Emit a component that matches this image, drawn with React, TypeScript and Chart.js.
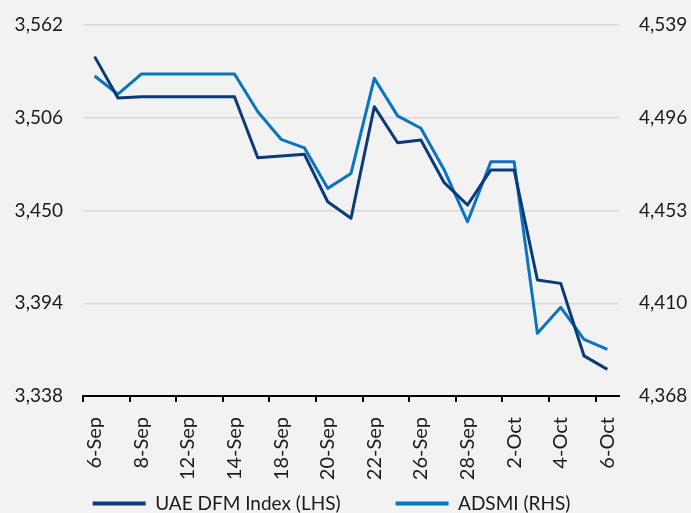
import React, { useEffect, useRef } from 'react';
import { Chart, registerables } from 'chart.js';

Chart.register(...registerables);

const categories = ['6-Sep', '7-Sep', '8-Sep', '11-Sep', '12-Sep', '13-Sep', '14-Sep', '15-Sep', '18-Sep', '19-Sep', '20-Sep', '21-Sep', '22-Sep', '25-Sep', '26-Sep', '27-Sep', '28-Sep', '29-Sep', '2-Oct', '3-Oct', '4-Oct', '5-Oct', '6-Oct'];
const dfmValues = [3542.9, 3517.9, 3518.7, 3518.7, 3518.7, 3518.7, 3518.7, 3481.9, 3482.9, 3483.9, 3455.3, 3445.3, 3512.7, 3490.9, 3492.6, 3466.8, 3453.3, 3474.5, 3474.5, 3408.0, 3406.0, 3362.2, 3354.1];
const adsmiValues = [4515.5, 4507.1, 4516.4, 4516.4, 4516.4, 4516.4, 4516.4, 4499.0, 4486.3, 4482.4, 4463.7, 4470.6, 4514.4, 4497.1, 4491.4, 4472.2, 4448.3, 4476.0, 4476.0, 4396.9, 4408.9, 4394.1, 4389.5];
const leftTickValues = [3338, 3394, 3450, 3506, 3562];
const leftTickLabels = ['3,338', '3,394', '3,450', '3,506', '3,562'];
const rightTickValues = [4368, 4410.75, 4453.5, 4496.25, 4539];
const rightTickLabels = ['4,368', '4,410', '4,453', '4,496', '4,539'];
const seriesNames = ['UAE DFM Index (LHS)', 'ADSMI (RHS)'];

const DARK = '#0b3a78';
const LIGHT = '#0a74c0';
const FONT = 'Lato';
const TEXT = '#1a1a1a';
const FS = 19;
const LEGEND_PAD = 55;

const legendPlacer = {
  id: 'legendPlacer',
  afterLayout(chart: any) {
    const lg = chart.legend;
    if (!lg) return;
    const top = chart.chartArea.bottom + 43;
    lg.top = top;
    lg.bottom = chart.height + 20;
    lg.height = lg.bottom - lg.top;
    lg.left -= 14;
    lg.right -= 14;
  },
};

export default function App() {
  const ref = useRef<HTMLCanvasElement | null>(null);
  useEffect(() => {
    if (!ref.current) return;
    const chart = new Chart(ref.current, {
      type: 'line',
      data: {
        labels: categories,
        datasets: [
          {
            label: seriesNames[0],
            data: dfmValues,
            borderColor: DARK,
            backgroundColor: DARK,
            borderWidth: 3,
            pointRadius: 0,
            tension: 0,
            yAxisID: 'y',
            borderJoinStyle: 'round',
          },
          {
            label: seriesNames[1],
            data: adsmiValues,
            borderColor: LIGHT,
            backgroundColor: LIGHT,
            borderWidth: 3,
            pointRadius: 0,
            tension: 0,
            yAxisID: 'y1',
            borderJoinStyle: 'round',
          },
        ],
      },
      plugins: [legendPlacer],
      options: {
        responsive: false,
        animation: false,
        devicePixelRatio: 1,
        layout: { padding: { top: 25, left: 0, right: 0, bottom: 0 } },
        plugins: {
          tooltip: { enabled: false },
          legend: {
            position: 'bottom',
            maxHeight: 12,
            labels: {
              font: { family: FONT, size: FS },
              color: TEXT,
              boxWidth: 53,
              boxHeight: 4,
              padding: LEGEND_PAD,
              generateLabels: (c: any) =>
                c.data.datasets.map((d: any, i: number) => ({
                  text: d.label,
                  fillStyle: d.borderColor,
                  strokeStyle: d.borderColor,
                  lineWidth: 0,
                  fontColor: TEXT,
                  hidden: false,
                  datasetIndex: i,
                })),
            },
          },
        },
        scales: {
          x: {
            type: 'category',
            offset: true,
            afterFit: (s: any) => {
              s.height = 105;
            },
            border: { display: true, color: '#000', width: 2 },
            grid: {
              display: true,
              offset: true,
              drawOnChartArea: false,
              drawTicks: true,
              tickLength: 6,
              lineWidth: 2,
              color: (ctx: any) => (ctx.index % 2 === 0 ? '#000' : 'rgba(0,0,0,0)'),
            },
            ticks: {
              autoSkip: false,
              maxRotation: 90,
              minRotation: 90,
              padding: 15,
              color: TEXT,
              font: { family: FONT, size: 20 },
              callback: (_v: any, i: number) => (i % 2 === 0 ? categories[i] : ''),
            },
          },
          y: {
            position: 'left',
            min: leftTickValues[0],
            max: leftTickValues[leftTickValues.length - 1],
            afterFit: (s: any) => {
              s.width = 83;
              s.paddingTop = 8;
              s.paddingBottom = 8;
            },
            afterBuildTicks: (s: any) => {
              s.ticks = leftTickValues.map((v) => ({ value: v }));
            },
            border: { display: false },
            grid: { color: '#d9d9d9', lineWidth: 1.5, drawTicks: false },
            ticks: {
              padding: 20,
              color: TEXT,
              font: { family: FONT, size: FS },
              callback: (v: any) => {
                const idx = leftTickValues.indexOf(Number(v));
                return idx >= 0 ? leftTickLabels[idx] : '';
              },
            },
          },
          y1: {
            position: 'right',
            min: rightTickValues[0],
            max: rightTickValues[rightTickValues.length - 1],
            afterFit: (s: any) => {
              s.width = 72;
              s.paddingTop = 8;
              s.paddingBottom = 8;
            },
            afterBuildTicks: (s: any) => {
              s.ticks = rightTickValues.map((v) => ({ value: v }));
            },
            border: { display: false },
            grid: { display: false, drawTicks: false },
            ticks: {
              padding: 20,
              color: TEXT,
              font: { family: FONT, size: FS },
              callback: (v: any) => {
                const idx = rightTickValues.indexOf(Number(v));
                return idx >= 0 ? rightTickLabels[idx] : '';
              },
            },
          },
        },
      },
    } as any);
    return () => chart.destroy();
  }, []);

  return (
    <div
      style={{
        position: 'fixed',
        left: 0,
        top: 0,
        width: 691,
        height: 513,
        overflow: 'hidden',
        background: '#f2f2f2',
      }}
    >
      <canvas ref={ref} width={691} height={513} style={{ display: 'block', width: 691, height: 513 }} />
    </div>
  );
}
